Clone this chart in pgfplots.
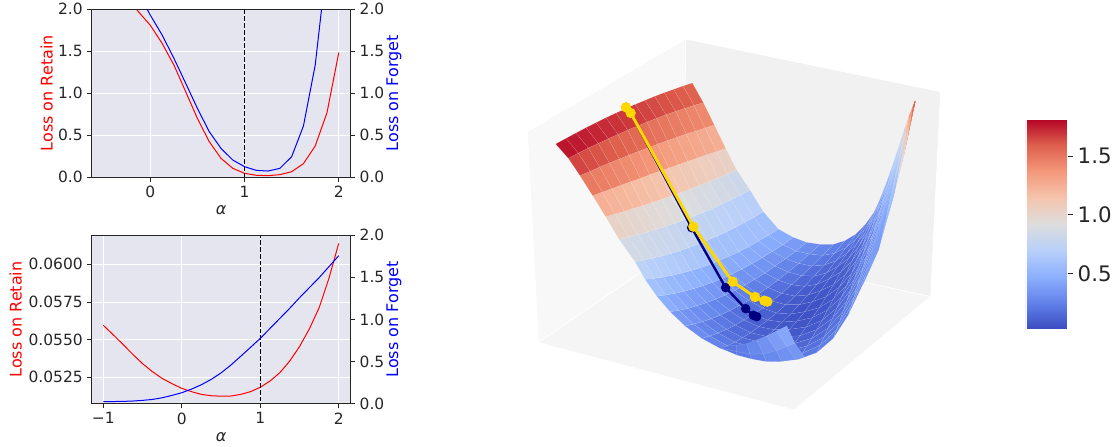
\documentclass[border=0pt]{standalone}
\usepackage{fontspec}
\setmainfont{DejaVu Sans}
\usepackage{pgfplots}
\pgfplotsset{compat=1.18}
\definecolor{txt}{RGB}{38,38,38}
\definecolor{panel}{RGB}{229,229,239}
\newcommand{\tf}{\fontsize{11.6}{13}\selectfont}
\newcommand{\lf}{\fontsize{12}{13}\selectfont}
\newcommand{\cf}{\fontsize{16}{17}\selectfont}
\pgfplotsset{
  base/.style={scale only axis,width=194.25pt,tick align=outside,
    major tick length=3.2pt,scaled ticks=false,
    tick style={txt,line width=.75pt},
    axis line style={color=txt,line width=.75pt},
    tick label style={font=\tf,text=txt},
    label style={font=\lf},
    every axis plot/.append style={line width=.75pt}},
  retain/.style={base,tick pos=left,grid=major,grid style={white,line width=.75pt},
    axis background/.style={fill=panel},
    xlabel={\textit{α}},xlabel style={text=txt,anchor=center}},
  forget/.style={base,xtick=\empty,ytick pos=right,yticklabel pos=right,
    ymin=0,ymax=2,ytick={0,.5,1,1.5,2},yticklabels={0.0,0.5,1.0,1.5,2.0},
    ylabel={Loss on Forget},
    ylabel style={blue,anchor=center,at={(axis description cs:1.1672,.5)}}},
}
\begin{document}
\begin{tikzpicture}
\useasboundingbox (0,0) rectangle (840pt,334.5pt);
% ---- top left ----
\begin{axis}[retain,at={(68.8pt,201.5pt)},anchor=south west,height=126pt,
  xmin=-0.622,xmax=2.127,ymin=0,ymax=2,
  xtick={0,1,2},xticklabels={0,1,2},
  ytick={0,.5,1,1.5,2},yticklabels={0.0,0.5,1.0,1.5,2.0},
  ylabel={Loss on Retain},
  ylabel style={red,anchor=center,at={(axis description cs:-0.1737,.5)}},
  xlabel style={at={(axis description cs:.5,-.1946)}}]
\addplot[red] coordinates {(-0.25,2.15)(-0.125,1.97)(0,1.81)(0.125,1.595)(0.25,1.337)(0.375,1.02)(0.5,0.70)(0.625,0.425)(0.75,0.226)(0.875,0.107)(1,0.048)(1.125,0.024)(1.25,0.02)(1.375,0.032)(1.5,0.067)(1.625,0.163)(1.75,0.373)(1.875,0.77)(2,1.484)};
\addplot[black,dash pattern=on 3.6pt off 1.5pt] coordinates {(1,0)(1,2)};
\end{axis}
\begin{axis}[forget,at={(68.8pt,201.5pt)},anchor=south west,height=126pt,
  xmin=-0.622,xmax=2.127]
\addplot[blue] coordinates {(-0.125,2.2)(0,1.93)(0.125,1.695)(0.25,1.417)(0.375,1.12)(0.5,0.82)(0.625,0.544)(0.75,0.345)(0.875,0.206)(1,0.127)(1.125,0.083)(1.25,0.075)(1.375,0.107)(1.5,0.246)(1.625,0.611)(1.75,1.337)(1.875,2.57)};
\end{axis}
% ---- bottom left ----
\begin{axis}[retain,at={(68.8pt,31.7pt)},anchor=south west,height=126.3pt,
  xmin=-1.148,xmax=2.153,ymin=0.05075,ymax=0.061925,
  xtick={-1,0,1,2},xticklabels={−1,0,1,2},
  ytick={0.0525,0.055,0.0575,0.06},yticklabels={0.0525,0.0550,0.0575,0.0600},
  ylabel={Loss on Retain},
  ylabel style={red,anchor=center,at={(axis description cs:-0.2934,.5)}},
  xlabel style={at={(axis description cs:.5,-.196)}}]
\addplot[red] coordinates {(-1,0.05595)(-0.875,0.05533)(-0.75,0.05469)(-0.625,0.05403)(-0.5,0.05341)(-0.375,0.05288)(-0.25,0.05243)(-0.125,0.05208)(0,0.05177)(0.125,0.05155)(0.25,0.05137)(0.375,0.05128)(0.5,0.05125)(0.625,0.05126)(0.75,0.05137)(0.875,0.05155)(1,0.05184)(1.125,0.05226)(1.25,0.05281)(1.375,0.05358)(1.5,0.05454)(1.625,0.05571)(1.75,0.05712)(1.875,0.05907)(2,0.06139)};
\addplot[black,dash pattern=on 3.6pt off 1.5pt] coordinates {(1,0.05)(1,0.062)};
\end{axis}
\begin{axis}[forget,at={(68.8pt,31.7pt)},anchor=south west,height=126.3pt,
  xmin=-1.148,xmax=2.153]
\addplot[blue] coordinates {(-1,0.024)(-0.875,0.026)(-0.75,0.028)(-0.625,0.032)(-0.5,0.04)(-0.375,0.051)(-0.25,0.071)(-0.125,0.099)(0,0.131)(0.125,0.174)(0.25,0.226)(0.375,0.289)(0.5,0.366)(0.625,0.459)(0.75,0.563)(0.875,0.669)(1,0.776)(1.125,0.895)(1.25,1.014)(1.375,1.133)(1.5,1.259)(1.625,1.378)(1.75,1.497)(1.875,1.628)(2,1.758)};
\end{axis}
% ---- surface ----
\begin{axis}[at={(390pt,19.5pt)},anchor=south west,scale only axis,width=330pt,height=292.5pt,
  view={0}{90},hide axis,clip=false,
  xmin=0,xmax=1320,ymin=0,ymax=1170,zmin=0,zmax=2,y dir=reverse,
  colormap={coolwarm}{rgb255=(58,76,192) rgb255=(98,130,234) rgb255=(141,176,254) rgb255=(184,208,249) rgb255=(221,221,221) rgb255=(245,196,173) rgb255=(244,152,122) rgb255=(222,96,77) rgb255=(180,4,38)},
  point meta min=0.028,point meta max=1.818,
  colorbar,colorbar/width=30.75pt,
  colorbar style={at={(1.15,0.2333)},anchor=south west,width=30.75pt,height=157.5pt,
    ytick={0.5,1,1.5},yticklabels={0.5,1.0,1.5},yticklabel pos=right,ytick pos=right,
    tick align=outside,major tick length=4.5pt,
    tick style={txt,line width=.75pt},
    axis line style={white,line width=.5pt},
    yticklabel style={font=\cf,text=txt}}]
\addplot3[fill={rgb,255:red,248;green,248;blue,248},draw=white,line width=.6pt] coordinates {(22,305,0)(497,27,0)(490,640,0)(55,938,0)} --cycle;
\addplot3[fill={rgb,255:red,241;green,241;blue,241},draw=white,line width=.6pt] coordinates {(497,27,0)(1262,185,0)(1232,800,0)(490,640,0)} --cycle;
\addplot3[fill={rgb,255:red,245;green,245;blue,245},draw=white,line width=.6pt] coordinates {(55,938,0)(490,640,0)(1232,800,0)(822,1140,0)} --cycle;
\addplot3[surf,mesh/rows=5,shader=flat mean] coordinates {
(1030,760,.34)(1037,735,.33)(1044,708,.33)(1051,681,.33)(1058,653,.34)(1066,625,.36)(1074,595,.38)(1082,565,.41)(1090,534,.44)(1098,502,.485)(1107,469,.53)(1115,436,.585)(1124,401,.64)(1134,366,.71)(1143,330,.78)
(1075,660,.42)(1080,637,.42)(1085,614,.43)(1090,590,.44)(1096,566,.46)(1101,541,.49)(1106,515,.52)(1112,490,.56)(1118,463,.60)(1124,436,.655)(1130,409,.71)(1136,381,.775)(1142,353,.84)(1149,324,.92)(1155,295,1.00)
(1120,500,.70)(1123,484,.70)(1126,469,.71)(1129,453,.72)(1132,436,.735)(1135,420,.76)(1138,403,.79)(1142,386,.825)(1145,369,.87)(1148,351,.92)(1152,334,.97)(1156,315,1.03)(1159,297,1.10)(1163,279,1.17)(1167,260,1.25)
(1150,380,1.10)(1152,370,1.10)(1154,360,1.11)(1156,350,1.12)(1158,340,1.13)(1160,330,1.15)(1162,320,1.17)(1164,310,1.20)(1165,299,1.23)(1167,289,1.27)(1169,278,1.31)(1171,268,1.34)(1173,257,1.39)(1175,246,1.44)(1177,235,1.50)
(1185,215,1.60)(1185,215,1.61)(1185,215,1.61)(1185,215,1.62)(1185,215,1.63)(1185,215,1.64)(1185,215,1.64)(1185,215,1.65)(1185,215,1.66)(1185,215,1.66)(1185,215,1.67)(1185,215,1.68)(1185,215,1.68)(1185,215,1.69)(1185,215,1.70)
};
\addplot3[surf,mesh/rows=21,shader=faceted,faceted color=white,line width=.2pt,draw opacity=.22] coordinates {
(107,342,1.84)(138,325,1.83)(168,309,1.81)(198,293,1.80)(228,278,1.79)(258,263,1.78)(288,249,1.76)(317,236,1.75)(346,223,1.74)(375,211,1.72)(404,199,1.71)(433,188,1.70)(461,178,1.69)(489,168,1.67)(517,159,1.66)
(145,385,1.74)(175,369,1.72)(205,354,1.71)(235,340,1.69)(265,326,1.67)(294,313,1.65)(323,300,1.64)(352,288,1.62)(381,276,1.60)(410,265,1.59)(438,254,1.57)(467,244,1.55)(495,235,1.53)(522,226,1.52)(550,218,1.50)
(180,437,1.60)(210,424,1.58)(239,411,1.56)(268,399,1.54)(298,387,1.53)(327,375,1.51)(356,364,1.49)(385,353,1.47)(413,342,1.45)(442,332,1.43)(470,322,1.41)(499,312,1.40)(527,303,1.38)(555,294,1.36)(583,285,1.34)
(218,497,1.40)(247,486,1.38)(275,476,1.37)(304,465,1.35)(332,455,1.33)(361,445,1.31)(389,434,1.30)(418,424,1.28)(446,414,1.26)(475,404,1.25)(503,394,1.23)(532,384,1.21)(560,374,1.19)(589,365,1.18)(617,355,1.16)
(257,560,1.12)(285,552,1.10)(313,544,1.09)(341,535,1.07)(369,527,1.06)(397,517,1.04)(425,508,1.03)(454,498,1.01)(482,488,.99)(510,477,.98)(538,467,.96)(566,455,.95)(594,444,.93)(622,432,.92)(650,420,.90)
(297,628,.94)(325,621,.93)(353,614,.91)(381,606,.90)(409,598,.88)(437,589,.87)(465,579,.85)(494,569,.84)(522,558,.83)(550,547,.81)(578,535,.80)(606,522,.78)(634,509,.77)(662,495,.75)(690,480,.74)
(345,695,.80)(372,690,.78)(399,684,.77)(426,678,.75)(453,670,.74)(480,662,.72)(507,652,.71)(535,642,.70)(562,631,.68)(590,619,.67)(618,606,.67)(646,592,.66)(674,577,.66)(702,562,.65)(730,545,.65)
(375,748,.66)(402,745,.64)(430,741,.61)(457,736,.59)(485,729,.57)(513,722,.56)(541,713,.54)(570,703,.53)(599,691,.52)(628,678,.51)(657,665,.51)(686,650,.50)(715,633,.50)(745,616,.50)(775,597,.50)
(410,798,.54)(437,795,.51)(465,790,.48)(492,784,.46)(521,776,.44)(549,767,.42)(578,757,.41)(607,745,.40)(637,732,.39)(666,717,.39)(696,701,.39)(727,683,.39)(757,664,.40)(789,644,.41)(820,622,.42)
(450,845,.42)(477,841,.39)(504,835,.36)(531,827,.34)(559,818,.32)(587,807,.30)(616,795,.29)(645,781,.28)(675,765,.28)(704,748,.28)(735,729,.28)(765,708,.29)(797,686,.30)(828,663,.32)(860,637,.34)
(495,888,.35)(521,882,.31)(547,875,.28)(574,866,.26)(601,855,.24)(629,842,.22)(657,827,.21)(686,811,.21)(715,792,.20)(744,772,.21)(774,750,.22)(805,726,.23)(836,700,.25)(868,672,.27)(900,643,.30)
(545,925,.30)(569,918,.26)(594,909,.22)(620,898,.19)(646,885,.16)(672,870,.14)(700,853,.13)(728,834,.13)(756,813,.13)(785,790,.13)(815,764,.15)(845,737,.17)(876,708,.20)(908,676,.23)(940,643,.27)
(600,955,.27)(622,947,.22)(645,936,.18)(668,923,.15)(692,908,.13)(717,890,.11)(743,870,.09)(770,849,.09)(797,824,.09)(825,798,.10)(853,769,.12)(883,738,.14)(913,705,.17)(943,670,.21)(975,632,.25)
(655,975,.25)(675,965,.20)(696,952,.16)(717,936,.13)(740,919,.10)(763,899,.08)(787,876,.07)(812,852,.065)(837,824,.07)(864,795,.08)(891,763,.10)(919,729,.12)(948,692,.15)(978,653,.19)(1008,612,.24)
(710,988,.24)(728,975,.19)(747,959,.15)(767,941,.11)(787,921,.09)(808,898,.07)(831,873,.05)(854,845,.05)(877,815,.05)(902,782,.07)(927,747,.09)(953,709,.11)(981,669,.15)(1008,627,.19)(1037,582,.24)
(775,995,.24)(790,979,.19)(806,961,.15)(823,940,.12)(840,917,.09)(858,891,.07)(877,863,.06)(898,833,.06)(918,800,.07)(940,764,.08)(962,726,.10)(985,686,.13)(1009,643,.16)(1034,598,.21)(1060,550,.26)
(835,988,.24)(848,969,.19)(861,948,.16)(875,925,.13)(890,899,.10)(906,871,.09)(922,840,.08)(940,807,.08)(957,772,.09)(976,734,.11)(995,694,.13)(1015,651,.16)(1036,607,.20)(1058,560,.25)(1080,510,.30)
(890,968,.24)(901,945,.20)(912,921,.17)(924,894,.15)(937,865,.14)(950,834,.13)(964,801,.12)(979,767,.13)(994,730,.14)(1009,691,.16)(1026,650,.19)(1042,607,.22)(1060,561,.26)(1078,514,.31)(1097,465,.36)
(940,925,.26)(949,900,.23)(959,873,.22)(969,844,.20)(980,813,.20)(991,781,.19)(1002,748,.20)(1015,713,.21)(1027,676,.23)(1040,637,.25)(1054,597,.28)(1068,555,.32)(1082,512,.36)(1097,467,.41)(1113,420,.46)
(985,855,.28)(993,829,.26)(1002,801,.25)(1010,772,.25)(1019,742,.25)(1029,711,.26)(1039,679,.27)(1049,645,.29)(1059,610,.32)(1070,574,.35)(1081,537,.39)(1092,498,.43)(1104,458,.48)(1116,417,.54)(1128,375,.60)
(1030,760,.34)(1037,735,.33)(1044,708,.33)(1051,681,.33)(1058,653,.34)(1066,625,.36)(1074,595,.38)(1082,565,.41)(1090,534,.44)(1098,502,.485)(1107,469,.53)(1115,436,.585)(1124,401,.64)(1134,366,.71)(1143,330,.78)
};
\addplot3[surf,mesh/rows=3,shader=faceted,faceted color=white,line width=.2pt,draw opacity=.22] coordinates {
(605,950,.20)(650,946,.20)(680,941,.26)(710,930,.30)(740,918,.36)(770,903,.42)(800,888,.48)
(605,955,.20)(650,965,.22)(690,972,.26)(730,972,.30)(770,962,.36)(800,950,.40)(825,940,.42)
(605,955,.20)(650,975,.20)(695,987,.22)(740,995,.24)(785,994,.26)(825,988,.28)(852,980,.30)
};
\addplot3[color={rgb,255:red,0;green,0;blue,128},line width=1.8pt,mark=*,mark size=2.6pt,mark options={solid}] coordinates {(318,232,0)(332,249,0)(515,593,0)(617,773,0)(677,836,0)(700,856,0)(710,860,0)};
\addplot3[color={rgb,255:red,255;green,215;blue,0},line width=2.2pt,mark=*,mark size=2.7pt,mark options={solid}] coordinates {(318,232,0)(332,249,0)(520,590,0)(638,755,0)(705,801,0)(733,812,0)(742,815,0)};
\end{axis}
\end{tikzpicture}
\end{document}
